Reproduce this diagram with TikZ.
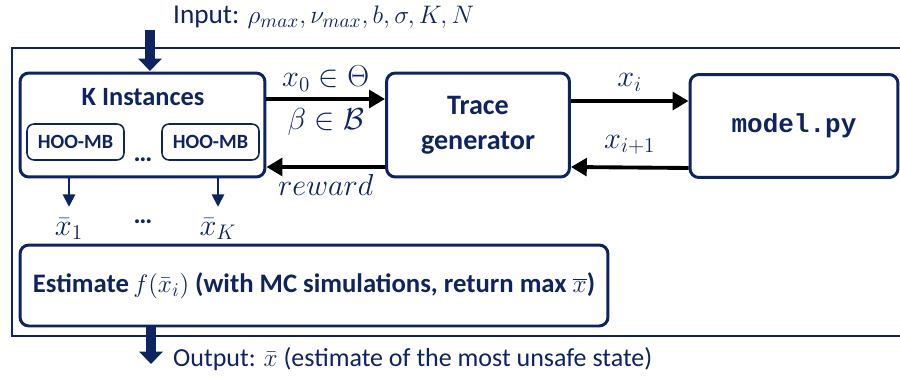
\documentclass[tikz,border=0pt]{standalone}
\usepackage{fontspec}
\setmainfont{Carlito}
\newfontfamily\codefont{Liberation Mono}
\usetikzlibrary{arrows.meta}
\definecolor{navy}{RGB}{14,36,96}
\begin{document}
\begin{tikzpicture}[
      x=0.02cm, y=-0.02cm,
      every node/.style={text=navy},
      navybox/.style={draw=navy, line width=1.7pt, rounded corners=5pt},
      hoobox/.style={draw=navy, line width=0.9pt, rounded corners=4pt,
          minimum width=1.94cm, minimum height=0.72cm,
          font=\fontsize{11.5}{13}\selectfont\bfseries},
      mathlabel/.style={font=\fontsize{16.5}{18}\selectfont},
      blackarrow/.style={draw=black, line width=2.2pt, -{Triangle[length=9pt,width=10pt]}},
      fatarrow/.style={draw=navy, line width=5.5pt, -{Triangle[length=7pt,width=13pt]}},
      thinarrow/.style={draw=navy, line width=1pt, -{Triangle[length=7pt,width=7pt]}},
  ]
  \useasboundingbox (0,0) rectangle (900,379);

  % cadre extérieur (ouvert à droite)
  \draw[navy, line width=1.3pt] (900,48) -- (12,48) -- (12,336) -- (900,336);

  % entrée et sortie
  \node[anchor=west, font=\fontsize{15.5}{18}\selectfont] (input) at (167,17)
      {Input: $\rho_{max}, \nu_{max}, b, \sigma, K, N$};
  \node[anchor=west, font=\fontsize{14.8}{18}\selectfont] (output) at (167,359)
      {Output: $\bar{x}$ (estimate of the most unsafe state)};

  % les trois blocs du haut
  \node[navybox, minimum width=4.9cm, minimum height=2.08cm] (kinst) at (142.5,125) {};
  \node[font=\fontsize{15}{17}\selectfont\bfseries] (ktitle) at (143,97) {K Instances};
  \node[hoobox] (hooA) at (75.5,142) {HOO-MB};
  \node[hoobox] (hooB) at (210.5,142) {HOO-MB};
  \node[font=\fontsize{15}{17}\selectfont\bfseries] (hdots) at (143,160) {\dots};

  \node[navybox, minimum width=3.66cm, minimum height=2.08cm, align=center,
        font=\fontsize{16}{20}\selectfont\bfseries] (trace) at (478,125) {Trace\\generator};
  \node[navybox, minimum width=4.16cm, minimum height=2.06cm,
        font=\fontsize{14.8}{16}\selectfont\codefont\bfseries] (model) at (794,126) {model.py};

  % bloc d'estimation
  \node[navybox, minimum width=11.76cm, minimum height=1.62cm,
        font=\fontsize{15.2}{18}\selectfont] (estim) at (314,285.5)
      {\textbf{Estimate}\,$f(\bar{x}_i)$ \textbf{(with MC simulations, return max} $\overline{x}$\textbf{)}};

  % sorties des instances
  \node[mathlabel] (xone) at (69,229) {$\bar{x}_1$};
  \node[font=\fontsize{15}{17}\selectfont\bfseries] (xdots) at (143,222) {\dots};
  \node[mathlabel] (xK) at (218,229) {$\bar{x}_K$};

  % flèches
  \coordinate (intop) at (150,30);
  \coordinate (outtop) at (151,326);
  \draw[fatarrow] (intop) -- (intop |- 0,71);
  \draw[fatarrow] (outtop) -- (outtop |- 0,364);

  \draw[thinarrow] (kinst.south -| xone) -- ([yshift=3pt]xone.north);
  \draw[thinarrow] (kinst.south -| xK) -- ([yshift=3pt]xK.north);

  \draw[blackarrow] ([yshift=0.52cm]kinst.east) -- ([yshift=0.52cm]trace.west)
      node[midway, above=0pt, mathlabel] (lxzero) {$x_0 \in \Theta$}
      node[midway, below=1pt, mathlabel] (lbeta) {$\beta \in \mathcal{B}$};
  \draw[blackarrow] ([yshift=-0.84cm]trace.west) -- ([yshift=-0.84cm]kinst.east)
      node[midway, below=0pt, mathlabel] (lreward) {$reward$};
  \draw[blackarrow] ([yshift=0.48cm]trace.east) -- ([yshift=0.5cm]model.west)
      node[midway, above=1pt, mathlabel] (lxi) {$x_i$};
  \draw[blackarrow] ([yshift=-0.84cm]model.west) -- ([yshift=-0.84cm]trace.east)
      node[midway, above=3pt, mathlabel] (lxnext) {$x_{i+1}$};

\end{tikzpicture}
\end{document}
